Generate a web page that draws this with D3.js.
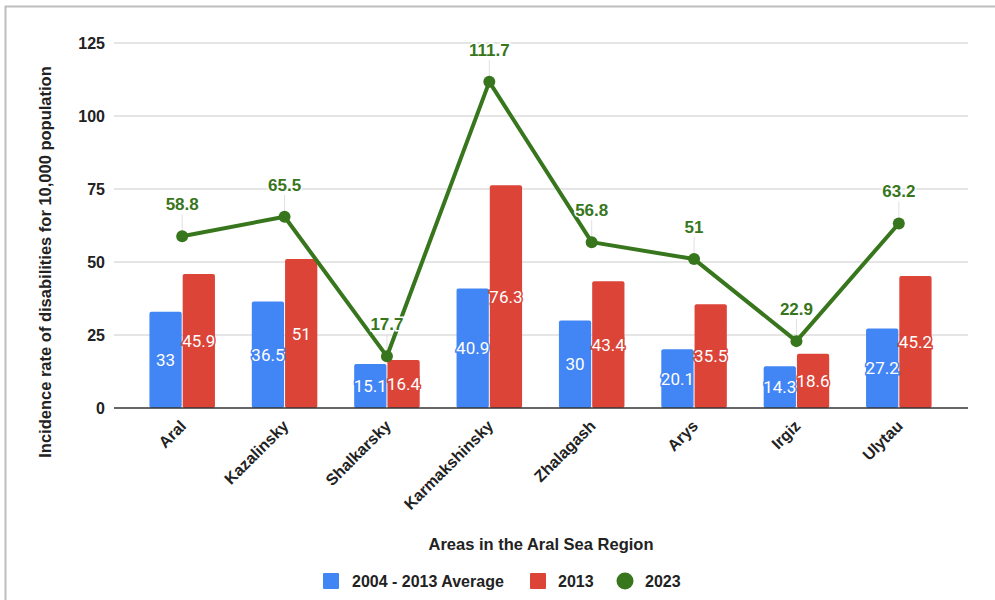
<!DOCTYPE html>
<html>
<head>
<meta charset="utf-8">
<script src="https://cdn.jsdelivr.net/npm/d3@7"></script>
<style>
  html, body { margin: 0; padding: 0; background: #fff; }
  svg { display: block; font-family: Roboto, Arial, sans-serif; }
</style>
</head>
<body>
<svg id="chart" width="995" height="600"></svg>
<script>
// Disability incidence per 10,000 population, Aral Sea region districts
const areas = ["Aral", "Kazalinsky", "Shalkarsky", "Karmakshinsky", "Zhalagash", "Arys", "Irgiz", "Ulytau"];
const avg2004_2013 = [33, 36.5, 15.1, 40.9, 30, 20.1, 14.3, 27.2];
const values2013 = [45.9, 51, 16.4, 76.3, 43.4, 35.5, 18.6, 45.2];
const values2023 = [58.8, 65.5, 17.7, 111.7, 56.8, 51, 22.9, 63.2];
const yTicks = [0, 25, 50, 75, 100, 125];

const seriesNames = ["2004 - 2013 Average", "2013", "2023"];
const colors = ["#4285f4", "#db4437", "#38761d"];

const svg = d3.select("#chart");
const W = 995, H = 600;
const boldFont = "Arial, 'Liberation Sans', sans-serif";

// outer frame (left and top edges visible)
svg.append("rect")
  .attr("x", 5.5).attr("y", 6.5)
  .attr("width", W + 20).attr("height", H + 20)
  .attr("fill", "#fff").attr("stroke", "#bdbdbd").attr("stroke-width", 2);

const gridLeft = 114, gridRight = 968;
const y = d3.scaleLinear().domain([0, 125]).range([408, 43]);
const x = d3.scaleBand().domain(areas).range([131, 950]).paddingInner(0.36).paddingOuter(0.18);
const x1 = d3.scaleBand().domain([0, 1]).range([0, x.bandwidth()]).paddingInner(0.03);

// horizontal gridlines
svg.append("g").selectAll("line").data(yTicks.filter(d => d > 0)).join("line")
  .attr("x1", gridLeft).attr("x2", gridRight)
  .attr("y1", d => y(d)).attr("y2", d => y(d))
  .attr("stroke", "#dcdcdc").attr("stroke-width", 1.5);

// y tick labels
const yAxis = d3.axisLeft(y).tickValues(yTicks).tickSize(0).tickPadding(0);
const gy = svg.append("g").attr("transform", `translate(${gridLeft - 9},0)`).call(yAxis);
gy.select(".domain").remove();
gy.selectAll("text")
  .attr("font-family", boldFont)
  .attr("font-size", 16).attr("font-weight", "bold").attr("fill", "#222");

// bars
const barData = areas.map((a, i) => ({ area: a, vals: [avg2004_2013[i], values2013[i]] }));
const groups = svg.append("g").selectAll("g").data(barData).join("g")
  .attr("transform", d => `translate(${x(d.area)},0)`);

groups.selectAll("rect").data(d => d.vals.map((v, k) => ({ v, k }))).join("rect")
  .attr("x", d => x1(d.k))
  .attr("width", x1.bandwidth())
  .attr("y", d => y(d.v))
  .attr("height", d => y(0) - y(d.v))
  .attr("rx", 2)
  .attr("fill", d => colors[d.k]);

// bar value labels (centred in bar, with halo in bar colour)
groups.selectAll("text").data(d => d.vals.map((v, k) => ({ v, k }))).join("text")
  .attr("x", d => x1(d.k) + x1.bandwidth() / 2)
  .attr("y", d => (y(d.v) + y(0)) / 2)
  .attr("dy", "0.36em")
  .attr("text-anchor", "middle")
  .attr("font-size", 17)
  .attr("fill", "#fff")
  .attr("stroke", d => colors[d.k])
  .attr("stroke-width", 3)
  .attr("paint-order", "stroke")
  .text(d => d.v);

// baseline
svg.append("line")
  .attr("x1", gridLeft).attr("x2", gridRight)
  .attr("y1", y(0)).attr("y2", y(0))
  .attr("stroke", "#333").attr("stroke-width", 1.5);

// 2023 line
const cx = a => x(a) + x.bandwidth() / 2;
const linePts = areas.map((a, i) => [cx(a), y(values2023[i])]);

// leader lines from points to labels
svg.append("g").selectAll("line").data(linePts).join("line")
  .attr("x1", d => d[0]).attr("x2", d => d[0])
  .attr("y1", d => d[1]).attr("y2", d => d[1] - 22)
  .attr("stroke", "#e0e0e0").attr("stroke-width", 1);

svg.append("path")
  .attr("d", d3.line()(linePts))
  .attr("fill", "none")
  .attr("stroke", colors[2])
  .attr("stroke-width", 4)
  .attr("stroke-linejoin", "round");

svg.append("g").selectAll("circle").data(linePts).join("circle")
  .attr("cx", d => d[0]).attr("cy", d => d[1]).attr("r", 6)
  .attr("fill", colors[2]);

svg.append("g").selectAll("text").data(areas).join("text")
  .attr("x", a => cx(a))
  .attr("y", (a, i) => y(values2023[i]) - 26)
  .attr("text-anchor", "middle")
  .attr("font-family", boldFont)
  .attr("font-size", 17).attr("font-weight", "bold")
  .attr("fill", colors[2])
  .attr("stroke", "#fff").attr("stroke-width", 3).attr("paint-order", "stroke")
  .text((a, i) => values2023[i]);

// x category labels, rotated
svg.append("g").selectAll("text").data(areas).join("text")
  .attr("transform", a => `translate(${cx(a) + 5},${y(0) + 19}) rotate(-45)`)
  .attr("text-anchor", "end")
  .attr("font-family", boldFont)
  .attr("font-size", 16).attr("font-weight", "bold").attr("fill", "#222")
  .text(a => a);

// axis titles
svg.append("text")
  .attr("transform", `translate(51,262) rotate(-90)`)
  .attr("text-anchor", "middle")
  .attr("font-family", boldFont)
  .attr("font-size", 16.5).attr("font-weight", "bold").attr("fill", "#222")
  .text("Incidence rate of disabilities for 10,000 population");

svg.append("text")
  .attr("x", 541).attr("y", 550)
  .attr("text-anchor", "middle")
  .attr("font-family", boldFont)
  .attr("font-size", 16.5).attr("font-weight", "bold").attr("fill", "#222")
  .text("Areas in the Aral Sea Region");

// legend
const legendX = [323, 530, 616];
const leg = svg.append("g").selectAll("g").data(seriesNames).join("g")
  .attr("transform", (d, i) => `translate(${legendX[i]},581)`);
leg.each(function (d, i) {
  const g = d3.select(this);
  if (i < 2) {
    g.append("rect").attr("x", 0).attr("y", -8).attr("width", 16).attr("height", 16)
      .attr("rx", 1).attr("fill", colors[i]);
  } else {
    g.append("circle").attr("cx", 9).attr("cy", 0).attr("r", 8.5).attr("fill", colors[i]);
  }
  g.append("text").attr("x", i === 0 ? 29 : (i === 1 ? 28 : 29)).attr("dy", "0.35em")
    .attr("font-family", boldFont)
    .attr("font-size", 16).attr("font-weight", "bold").attr("fill", "#222")
    .text(d);
});
</script>
</body>
</html>
